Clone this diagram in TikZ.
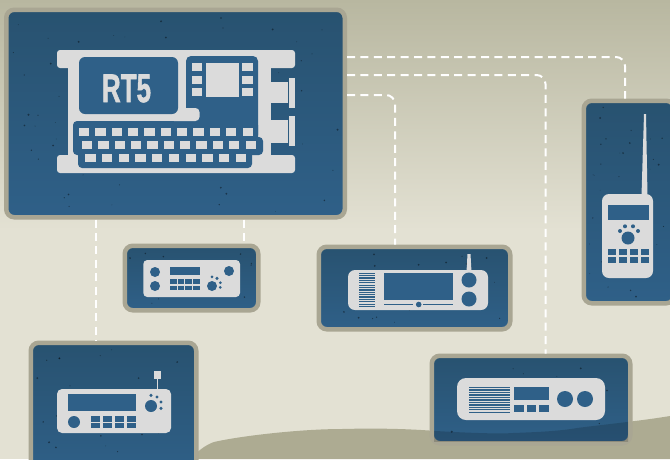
\documentclass[tikz,border=0pt]{standalone}
\usepackage{fontspec}
\setmainfont{Liberation Sans}
\newfontface\rtfont[FakeBold=1.6]{Liberation Sans Bold}
\usetikzlibrary{calc}
\definecolor{panelblue}{HTML}{2F6088}
\definecolor{paneltop}{HTML}{285270}
\definecolor{framegrey}{HTML}{A9A693}
\definecolor{bodygrey}{HTML}{DBDBDB}
\definecolor{paperlight}{HTML}{E3E1D3}
\definecolor{papertop}{HTML}{B8B7A0}
\definecolor{hillgreen}{HTML}{ADAB92}
\newcommand{\hillpath}{(190,459) .. controls (197,452) and (205,445) .. (214,442) .. controls (240,436) and (300,429) .. (342,429) .. controls (380,428) and (410,429) .. (436,431) .. controls (470,433) and (500,434) .. (513,433) .. controls (540,432) and (560,431) .. (577,428) .. controls (600,425) and (640,421) .. (670,416) -- (670,459) -- cycle}
\begin{document}
\begin{tikzpicture}[
    x=1pt, y=-1pt,
    panel/.style={draw=framegrey, line width=4.5pt, rounded corners=8pt,
                  top color=paneltop, bottom color=panelblue, inner sep=0pt},
    link/.style={draw=white, line width=2pt, rounded corners=9pt,
                 dash pattern=on 8pt off 5.4pt},
    body/.style={fill=bodygrey},
    dark/.style={fill=panelblue}
  ]
  \useasboundingbox (0,0) rectangle (670,459);

  % Paper
  \fill[paperlight] (0,0) rectangle (670,459);
  \shade[top color=papertop, bottom color=paperlight] (0,0) rectangle (670,230);
  \fill[hillgreen] \hillpath;

  % Panels
  \node[panel, minimum width=338.5pt, minimum height=207.5pt] (main) at (175.5,113.5) {};
  \node[panel, minimum width=133.5pt, minimum height=64.5pt] (desk) at (191.5,278) {};
  \node[panel, minimum width=191.5pt, minimum height=82.5pt] (wide) at (414.5,288) {};
  \node[panel, minimum width=165.5pt, minimum height=134.5pt] (base) at (113.5,410) {};
  \node[panel, minimum width=198.5pt, minimum height=87.5pt] (mobile) at (531,399.5) {};
  \node[panel, minimum width=90.5pt, minimum height=202.5pt] (hand) at (629,202) {};

  % Hill showing through
  \begin{scope}
    \clip (434,358) rectangle (628,441);
    \fill[black, opacity=.16] \hillpath;
  \end{scope}

  % Specks
  \pgfmathsetseed{7}
  \foreach \xa/\ya/\xw/\yh/\n in {12/15/326/197/70, 130/251/123/54/16, 324/252/181/72/22,
                                  36/348/155/108/30, 437/361/188/77/22, 589/106/78/192/36} {
    \foreach \i in {1,...,\n} {
      \pgfmathsetmacro{\px}{\xa+rnd*\xw}
      \pgfmathsetmacro{\py}{\ya+rnd*\yh}
      \pgfmathsetmacro{\pr}{0.3+rnd*0.8}
      \fill[black!75!paneltop, opacity=.55] (\px,\py) circle (\pr pt);
    }
  }

  % Connectors
  \draw[link] ([yshift=56.5pt]main.east) -| ([xshift=-4pt]hand.north);
  \draw[link] ([yshift=38.5pt]main.east) -| ([xshift=14.5pt]mobile.north);
  \draw[link] ([yshift=18.5pt]main.east) -| ([xshift=-19.5pt]wide.north);
  \draw[link, rounded corners=0pt] ([xshift=-79.5pt]main.south) -- ([xshift=-17.5pt]base.north);
  \draw[link, rounded corners=0pt] ([xshift=68.5pt]main.south) -- ([xshift=52.5pt]desk.north);

  % RT5 body
  \fill[body, rounded corners=3pt] (57,50) rectangle (295,68);
  \fill[body, rounded corners=3pt] (57,155) rectangle (295,173);
  \fill[body] (68,52) rectangle (271,171);
  \fill[body] (271,82) rectangle (288,103);
  \fill[body] (271,120) rectangle (288,143);
  \fill[body] (289,78) rectangle (295,108);
  \fill[body] (289,116) rectangle (295,146);
  \fill[dark, rounded corners=5pt] (186,56) rectangle (258,140);
  \fill[dark, rounded corners=4pt] (73,121) rectangle (258,145);
  \fill[dark, rounded corners=4pt] (73,137) rectangle (263,155);
  \fill[dark, rounded corners=4pt] (78,145) rectangle (252,168);
  \fill[body, rounded corners=4pt] (170,108) rectangle (199.5,121);
  \fill[dark, rounded corners=6pt] (79,57) rectangle (178,114);
  \node[font=\rtfont\fontsize{40}{40}\selectfont, text=bodygrey, inner sep=0pt,
        xscale=0.65, transform shape] (rtname) at (126.5,88.5) {RT5};
  % Chip
  \fill[body] (206,63) rectangle (239,97);
  \foreach \y in {63,75.5,88} {
    \fill[body] (192,\y) rectangle +(10,8.2);
    \fill[body] (242,\y) rectangle +(11,8.2);
  }
  % Keyboard
  \foreach \i in {0,...,10} {
    \fill[body] (79+\i*16.35,128) rectangle +(10.3,8);
    \fill[body] (82+\i*16.35,141) rectangle +(10.3,8);
  }
  \foreach \i in {0,...,9} {
    \fill[body] (85.3+\i*16.7,154) rectangle +(10.3,8);
  }

  % Desk radio
  \fill[body, rounded corners=4pt] (143.3,260) rectangle (240,297);
  \fill[dark] (155,272) circle (5pt) (155,286) circle (5pt) (229,271) circle (5pt);
  \fill[dark] (170,267) rectangle (200,275);
  \foreach \i in {0,...,3} {
    \fill[dark] (170+\i*7.7,279) rectangle +(6.7,5);
    \fill[dark] (170+\i*7.7,285.5) rectangle +(6.7,4.5);
  }
  \fill[dark] (212,286) circle (5pt) (212,276.8) circle (1.5pt) (217,278.3) circle (1.7pt)
              (220.3,282.7) circle (1.5pt) (220.3,287.3) circle (1.5pt);

  % Wide radio
  \fill[body] (467.5,254) -- (470.5,254) -- (471.5,272) -- (466.5,272) -- cycle;
  \fill[body, rounded corners=7pt] (348,270) rectangle (488,310);
  \foreach \i in {0,...,14} {
    \fill[dark] (359,272.6+\i*2.38) rectangle +(16,1.3);
  }
  \fill[dark] (384,273) rectangle (453,300);
  \draw[panelblue, line width=.8pt] (384,304.3) -- (413,304.3) (423,304.3) -- (453,304.3);
  \fill[dark] (418.7,304.5) circle (2.8pt);
  \fill[dark] (469,280) circle (7.5pt) (469,299) circle (7.5pt);

  % Base radio
  \draw[bodygrey, line width=1pt] (157,378) -- (157,390);
  \fill[body] (154,371) rectangle (161,379);
  \fill[body, rounded corners=5pt] (57,389) rectangle (171,433);
  \fill[dark] (68,394) rectangle (136,411);
  \fill[dark] (74,422) circle (6pt);
  \foreach \i in {0,...,3} {
    \fill[dark] (91+\i*12,416) rectangle +(9.3,5.6);
    \fill[dark] (91+\i*12,423) rectangle +(9.3,5);
  }
  \fill[dark] (151,406) circle (6pt) (151,395.3) circle (1.7pt) (157,397) circle (1.7pt)
              (161,402) circle (1.7pt) (161,408.3) circle (1.7pt);

  % Mobile radio
  \fill[body, rounded corners=9pt] (457,378) rectangle (605,420);
  \foreach \i in {0,...,10} {
    \fill[dark] (469,387+\i*2.45) rectangle +(41,1.4);
  }
  \fill[dark] (514,387) rectangle (549,400);
  \foreach \x in {514,526.7,539} {
    \fill[dark] (\x,405) rectangle +(9.5,7);
  }
  \fill[dark] (565,399) circle (8pt) (585,399) circle (8pt);

  % Hand radio
  \fill[body] (644,114) -- (646,114) -- (647.5,196) -- (641.5,196) -- cycle;
  \fill[body, rounded corners=7pt] (602,194) rectangle (653,278);
  \fill[dark] (608,205) rectangle (649,220);
  \fill[dark] (628,238) circle (6.5pt) (620,231) circle (2pt) (625,226.3) circle (2pt)
              (633,226.3) circle (2pt) (638,231) circle (2pt);
  \foreach \x in {608,619,630,640.7} {
    \fill[dark] (\x,249) rectangle +(8.2,5.7);
    \fill[dark] (\x,257) rectangle +(8.2,6);
  }
\end{tikzpicture}
\end{document}
